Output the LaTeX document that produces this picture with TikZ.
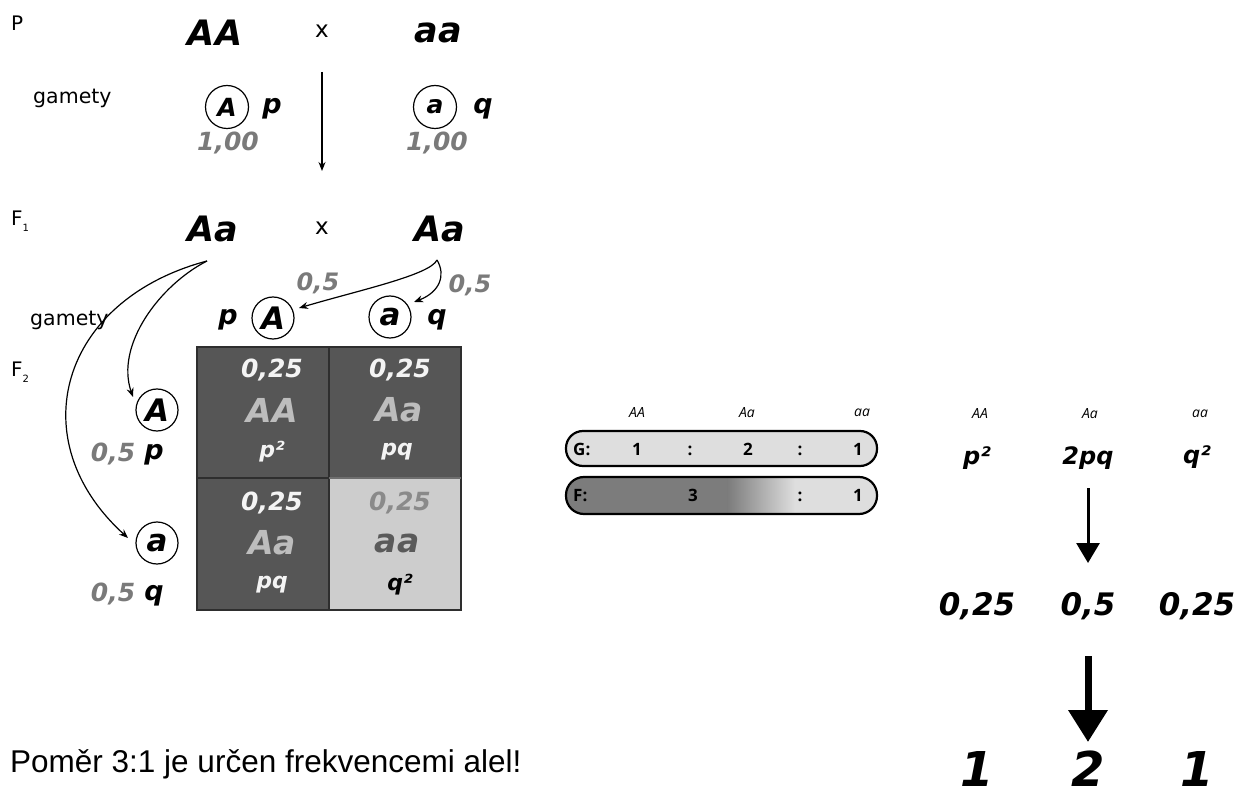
\documentclass[tikz,border=0pt]{standalone}
\usepackage{fontspec}
\setmainfont{DejaVu Sans}
\newfontfamily\arialfont{Liberation Sans}
\newfontfamily\myriadfont{Open Sans}
\usetikzlibrary{arrows.meta}
\definecolor{cellD}{HTML}{565656}
\definecolor{cellL}{HTML}{CDCDCD}
\definecolor{numgray}{HTML}{7A7A7A}
\definecolor{gridline}{HTML}{2E2E2E}
\definecolor{barG}{HTML}{DEDEDE}
\definecolor{barF}{HTML}{7C7C7C}
\definecolor{txtA}{HTML}{BDBDBD}
\definecolor{txtW}{HTML}{F4F4F4}
\definecolor{txtL}{HTML}{8A8A8A}
\definecolor{txtLa}{HTML}{5A5A5A}
\begin{document}
\begin{tikzpicture}[x=1pt,y=-1pt,
  lab/.style={font=\fontsize{20}{22}\selectfont, inner sep=0},
  gam/.style={font=\fontsize{20.5}{24}\selectfont, inner sep=0, anchor=west},
  geno/.style={font=\fontsize{35}{40}\selectfont\bfseries\itshape, inner sep=0},
  cross/.style={font=\fontsize{23}{24}\selectfont, inner sep=0},
  alleleS/.style={circle, draw, line width=1.2pt, minimum size=43pt, inner sep=0, font=\fontsize{25}{25}\selectfont\bfseries\itshape},
  alleleB/.style={circle, draw, line width=1.2pt, minimum size=42pt, inner sep=0, font=\fontsize{31}{31}\selectfont\bfseries\itshape},
  pq/.style={font=\fontsize{27}{28}\selectfont\bfseries\itshape, inner sep=0},
  gfreq/.style={font=\fontsize{25}{28}\selectfont\bfseries\itshape, inner sep=0, text=numgray},
  cnum/.style={font=\fontsize{25}{28}\selectfont\bfseries\itshape, inner sep=0},
  cgen/.style={font=\fontsize{33}{36}\selectfont\bfseries\itshape, inner sep=0},
  csym/.style={font=\fontsize{22}{24}\selectfont\bfseries\itshape, inner sep=0},
  small/.style={font=\myriadfont\fontsize{14}{16}\selectfont\itshape, inner sep=0},
  bartxt/.style={font=\myriadfont\fontsize{17}{18}\selectfont\bfseries, inner sep=0, anchor=base},
  rsym/.style={font=\fontsize{24}{26}\selectfont\bfseries\itshape, inner sep=0},
  rnum/.style={font=\fontsize{31}{34}\selectfont\bfseries\itshape, inner sep=0},
  rbig/.style={font=\fontsize{48}{52}\selectfont\bfseries\itshape, inner sep=0},
  thin/.style={line width=1.2pt, -{Stealth[length=9pt,width=7pt]}},
]
\useasboundingbox (0,0) rectangle (1243,802);

% ---------- P generation ----------
\node[lab, anchor=west] (Plab) at (11,23) {P};
\node[geno] (PAA) at (215,33) {AA};
\node[cross] (Px) at (322,31) {x};
\node[geno] (Paa) at (438,33) {aa};
\node[gam] (gam1) at (33,98) {gamety};
\node[alleleS] (gA) at (227,107) {A};
\node[pq] (gp) at (272,109) {p};
\node[gfreq] (g100a) at (228,143) {1,00};
\node[alleleS] (ga) at (435,107) {a};
\node[pq] (gq) at (483,109) {q};
\node[gfreq] (g100b) at (437,143) {1,00};
\coordinate (vTop) at (322,72);
\coordinate (vBot) at (322,171);
\draw[thin] (vTop) -- (vBot);

% ---------- F1 generation ----------
\node[lab, anchor=west] (F1lab) at (11,221) {F\raisebox{-0.5ex}{\fontsize{10}{10}\selectfont 1}};
\node[geno] (F1L) at (213,229) {Aa};
\node[cross] (F1x) at (322,228) {x};
\node[geno] (F1R) at (440,229) {Aa};
\node[gam] (gam2) at (30,320) {gamety};
\node[gfreq, font=\fontsize{24}{26}\selectfont\bfseries\itshape] (h05a) at (318,283) {0,5};
\node[gfreq, font=\fontsize{24}{26}\selectfont\bfseries\itshape] (h05b) at (470,285) {0,5};
\node[pq] (hp) at (228,320) {p};
\node[alleleB] (hA) at (273,318) {A};
\node[alleleB] (ha) at (390,317) {a};
\node[pq] (hq) at (437,320) {q};

\coordinate (Ls) at (207,261);
\coordinate (Rs) at (437,260);
\draw[thin] (Ls) .. controls (160,285) and (115,345) .. (133,397);
\draw[thin] (Ls) .. controls (60,300) and (20,440) .. (128,538);
\draw[thin] (Rs) .. controls (430,275) and (360,290) .. (299,308);
\draw[thin] (Rs) .. controls (446,275) and (440,292) .. (414,302);

% ---------- F2 ----------
\node[lab, anchor=west] (F2lab) at (11,372) {F\raisebox{-0.5ex}{\fontsize{10}{10}\selectfont 2}};
\node[alleleB] (vA) at (157,410) {A};
\node[gfreq] (v05a) at (113,454) {0,5};
\node[pq] (vp) at (154,455) {p};
\node[alleleB] (va) at (157,543) {a};
\node[gfreq] (v05b) at (113,594) {0,5};
\node[pq] (vq) at (154,596) {q};

% Punnett square
\fill[cellD] (197,347) rectangle (461,610);
\fill[cellL] (329,478) rectangle (461,610);
\draw[gridline, line width=1.4pt] (197,347) rectangle (461,610);
\draw[gridline, line width=1.4pt] (329,347) -- (329,610);
\draw[gridline, line width=1.4pt] (197,478) -- (329,478);
\draw[gridline!60!cellL, line width=1.2pt] (329,478) -- (461,478);

\node[cnum, text=txtW] (c11n) at (272,370) {0,25};
\node[cgen, text=txtA] (c11g) at (272,410) {AA};
\node[csym, text=txtW] (c11s) at (272,452) {p²};
\node[cnum, text=txtW] (c12n) at (400,370) {0,25};
\node[cgen, text=txtA] (c12g) at (399,410) {Aa};
\node[csym, text=txtW] (c12s) at (397,452) {pq};
\node[cnum, text=txtW] (c21n) at (272,503) {0,25};
\node[cgen, text=txtA] (c21g) at (272,543) {Aa};
\node[csym, text=txtW] (c21s) at (272,585) {pq};
\node[cnum, text=txtL] (c22n) at (400,503) {0,25};
\node[cgen, text=txtLa] (c22g) at (397,543) {aa};
\node[csym, text=black] (c22s) at (400,585) {q²};

% ---------- ratio bars ----------
\node[small] (mAA) at (637,413) {AA};
\node[small] (mAa) at (747,413) {Aa};
\node[small] (maa) at (862,413) {aa};
\path[fill=barG, draw=black, line width=2.2pt, rounded corners=17pt] (566,431) rectangle (877,466);
\node[bartxt, anchor=base west] (Gl) at (573,455) {G:};
\node[bartxt] (G1) at (637,455) {1};
\node[bartxt] (Gc1) at (690,455) {:};
\node[bartxt] (G2) at (748,455) {2};
\node[bartxt] (Gc2) at (800,455) {:};
\node[bartxt] (G3) at (858,455) {1};

\begin{scope}
  \clip[rounded corners=18pt] (566,477) rectangle (877,514);
  \fill[barF] (560,470) rectangle (728,520);
  \shade[left color=barF, right color=barG] (727.5,470) rectangle (795,520);
  \fill[barG] (794.5,470) rectangle (880,520);
\end{scope}
\draw[black, line width=2.2pt, rounded corners=18pt] (566,477) rectangle (877,514);
\node[bartxt, anchor=base west] (Fl) at (573,501) {F:};
\node[bartxt] (F3) at (693,501) {3};
\node[bartxt] (Fc) at (800,501) {:};
\node[bartxt] (F1n) at (858,501) {1};

% ---------- right column ----------
\node[small] (rAA) at (980,414) {AA};
\node[small] (rAa) at (1090,414) {Aa};
\node[small] (raa) at (1200,414) {aa};
\node[rsym] (rp2) at (977,458) {p²};
\node[rsym] (r2pq) at (1088,458) {2pq};
\node[rsym] (rq2) at (1197,457) {q²};
\coordinate (a1s) at (1088,488);
\coordinate (a1e) at (1088,563);
\draw[line width=3pt, -{Triangle[width=23pt,length=20pt]}] (a1s) -- (a1e);
\node[rnum] (r025a) at (977,606) {0,25};
\node[rnum] (r05) at (1088,606) {0,5};
\node[rnum] (r025b) at (1197,606) {0,25};
\coordinate (a2s) at (1088,656);
\coordinate (a2e) at (1088,742);
\draw[line width=7pt, -{Triangle[width=38pt,length=32pt]}] (a2s) -- (a2e);
\node[rbig, anchor=base] (r1a) at (977,786) {1};
\node[rbig, anchor=base] (r2) at (1088,786) {2};
\node[rbig, anchor=base] (r1b) at (1197,786) {1};

% ---------- bottom text ----------
\node[font=\arialfont\fontsize{31.5}{34}\selectfont, inner sep=0, anchor=base west] (note) at (10,772) {Poměr 3:1 je určen frekvencemi alel!};
\end{tikzpicture}
\end{document}
